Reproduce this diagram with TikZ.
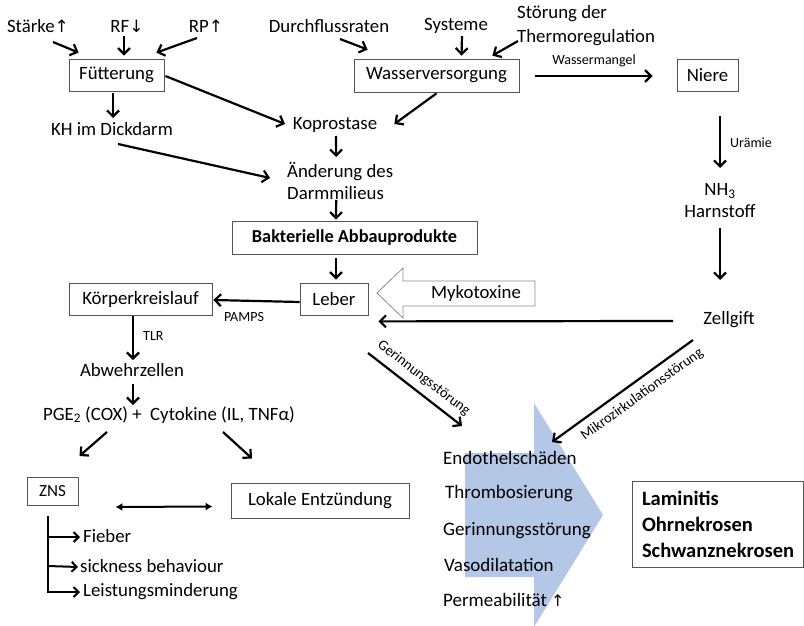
\documentclass[tikz,border=0pt]{standalone}
\usepackage{fontspec}
\setmainfont{Carlito}
\newfontfamily\symfont{DejaVu Sans}
\usetikzlibrary{arrows.meta}
\definecolor{chev}{HTML}{B4C7E7}
\definecolor{boxline}{HTML}{555555}
\begin{document}
\begin{tikzpicture}[x=1pt,y=-1pt,
  txt/.style={font=\fontsize{18.8}{22}\selectfont, inner sep=0pt, align=center},
  rtxt/.style={font=\fontsize{19}{22}\selectfont, inner sep=0pt, anchor=west},
  box/.style={txt, draw=boxline, line width=0.8pt, minimum height=32pt},
  lab/.style={font=\fontsize{14}{16}\selectfont, inner sep=0pt},
  slab/.style={font=\fontsize{14.5}{16}\selectfont, inner sep=0pt},
  arr/.style={line width=2.2pt, -{Straight Barb[length=6pt,width=12pt]}},
  tarr/.style={line width=2pt, -{Straight Barb[length=5pt,width=10pt]}},
  darr/.style={line width=2pt, {Latex[length=7pt,width=8pt]}-{Latex[length=7pt,width=8pt]}},
]
\useasboundingbox (0,0) rectangle (804,626);
\fill[white] (0,0) rectangle (804,626);

% blue chevron
\fill[chev] (465,453) -- (534,453) -- (534,403) -- (603,515) -- (534,627) -- (534,577) -- (465,577) -- cycle;

% Mykotoxine hollow arrow
\draw[draw=black!45, fill=white, line width=0.8pt] (377,293) -- (403,268) -- (403,281) -- (535,281) -- (535,306) -- (403,306) -- (403,318) -- cycle;
\node[txt] (myko) at (476,293) {Mykotoxine};

% top row
\node[txt] (staerke) at (38,26) {Stärke{\symfont\fontsize{17}{20}\selectfont ↑}};
\node[txt] (rf) at (127,26) {RF{\symfont\fontsize{17}{20}\selectfont ↓}};
\node[txt] (rp) at (206,26) {RP{\symfont\fontsize{17}{20}\selectfont ↑}};
\node[txt] (durch) at (329,26) {Durchflussraten};
\node[txt] (syst) at (456,26) {Systeme};
\node[txt, align=left, anchor=west, font=\fontsize{18.8}{24}\selectfont] (thermo) at (517,26) {Störung der\\Thermoregulation};

% boxes
\node[box, minimum width=95pt] (fut) at (116.5,75) {Fütterung};
\node[box, minimum width=165pt, minimum height=33pt] (wass) at (436.5,75.5) {Wasserversorgung};
\node[box, minimum width=61pt] (niere) at (707.5,75) {Niere};
\node[box, minimum width=245pt, minimum height=33pt, font=\fontsize{18.3}{22}\selectfont\bfseries] (bakt) at (354.5,237.5) {Bakterielle Abbauprodukte};
\node[box, minimum width=68pt] (leber) at (334,299) {Leber};
\node[box, minimum width=143pt] (koerp) at (140.5,299) {Körperkreislauf};
\node[box, minimum width=51pt, minimum height=28pt, font=\fontsize{17}{20}\selectfont] (zns) at (52.5,491) {ZNS};
\node[box, minimum width=178pt, minimum height=35pt] (lokal) at (320,500.5) {Lokale Entzündung};
\node[draw=boxline, line width=0.8pt, minimum width=171pt, minimum height=86pt, text width=151pt, inner xsep=10pt, inner ysep=0pt, align=left, font=\fontsize{20.5}{26}\selectfont\bfseries] (lam) at (717.5,524) {Laminitis\\Ohrnekrosen\\Schwanznekrosen};

% text nodes
\node[txt] (kh) at (112,129) {KH im Dickdarm};
\node[txt] (kopro) at (335,125) {Koprostase};
\node[txt, align=left, anchor=west] (aend) at (287,181) {Änderung des\\Darmmilieus};
\node[txt] (harn) at (720,201) {NH\textsubscript{3}\\Harnstoff};
\node[txt] (zell) at (729,320) {Zellgift};
\node[txt] (abwehr) at (132,370) {Abwehrzellen};
\node[txt] (pge) at (169,415) {PGE\textsubscript{2} (COX) +\ \ Cytokine (IL, TNFα)};
\node[txt, anchor=west] (fieber) at (83,536) {Fieber};
\node[txt, anchor=west] (sick) at (80,566) {sickness behaviour};
\node[txt, anchor=west] (leist) at (83,592) {Leistungsminderung};

\node[rtxt] (endo) at (443,458) {Endothelschäden};
\node[rtxt] (thromb) at (445,494) {Thrombosierung};
\node[rtxt] (gerinn) at (443,531) {Gerinnungsstörung};
\node[rtxt] (vaso) at (444,565) {Vasodilatation};
\node[rtxt] (perm) at (443,600) {Permeabilität {\symfont\fontsize{16}{20}\selectfont ↑}};

% arrows top-left
\draw[arr] ([shift={(15,16)}]staerke.center) -- ([shift={(10,-6)}]fut.north west);
\draw[arr] ([shift={(-3,10)}]rf.center) -- ([shift={(7.5,-3)}]fut.north);
\draw[arr] ([shift={(-9,12)}]rp.center) -- ([shift={(-8,-6)}]fut.north east);
\draw[arr] ([shift={(-3.5,2)}]fut.south) -- ([shift={(1,-11)}]kh.center);
\draw[arr] ([shift={(1,1)}]fut.east) -- ([shift={(-50,-1)}]kopro.center);
\draw[arr] ([shift={(6,15)}]kh.center) -- ([shift={(-17,-3)}]aend.west);

% arrows top-middle
\draw[arr] ([shift={(11,13)}]durch.center) -- ([shift={(14,-9)}]wass.north west);
\draw[arr] ([shift={(6,10)}]syst.center) -- ([shift={(25,-3)}]wass.north);
\draw[arr] ([shift={(1,15)}]thermo.west) -- ([shift={(-27,-3)}]wass.north east);
\draw[arr] ([shift={(0,1)}]wass.south) -- ([shift={(17,-1)}]kopro.east);
\draw[arr] ([shift={(1,11)}]kopro.center) -- ([shift={(-4,-24)}]aend.center);
\draw[arr] ([shift={(-4,19)}]aend.center) -- ([shift={(-18.5,-1)}]bakt.north);
\draw[arr] ([shift={(-18.5,4)}]bakt.south) -- ([shift={(2,-3)}]leber.north);

% right column
\draw[arr] ([shift={(16,0.5)}]wass.east) -- node[lab, above=8pt] (wm) {Wassermangel} ([shift={(-24,1)}]niere.west);
\draw[arr] ([shift={(12.5,25)}]niere.south) -- ([shift={(0,-33)}]harn.center);
\node[lab, anchor=west] (uraemie) at (730,143) {Urämie};
\draw[arr] ([shift={(0,27)}]harn.center) -- ([shift={(-9,-40)}]zell.center);
\draw[arr] ([shift={(-56,1)}]zell.center) -- ([shift={(10,6)}]leber.south east);

% left middle
\draw[arr] ([shift={(0,3)}]leber.west) -- ([shift={(1,1)}]koerp.east);
\node[lab] (pamps) at (244,317) {PAMPS};
\draw[arr] ([shift={(-7.5,1)}]koerp.south) -- ([shift={(1,-10)}]abwehr.center);
\node[lab, anchor=west] (tlr) at (143,336) {TLR};
\draw[arr] ([shift={(1,14)}]abwehr.center) -- ([shift={(-36,-10)}]pge.center);
\draw[arr] ([shift={(-62,17)}]pge.center) -- ([shift={(27,-35)}]zns.center);
\draw[arr] ([shift={(54,17)}]pge.center) -- ([shift={(-68,-42)}]lokal.center);
\draw[darr] ([shift={(37,16)}]zns.east) -- ([shift={(-18,6)}]lokal.west);

% ZNS tree
\coordinate (tt) at (48,516);
\coordinate (tb) at (48,592);
\draw[line width=2pt] (tt) -- (tb);
\draw[tarr] (48,537) -- ([shift={(-3,1)}]fieber.west);
\draw[tarr] (48,566) -- ([shift={(-2,1)}]sick.west);
\draw[tarr] ([shift={(-1,0)}]tb) -- ([shift={(-3,0)}]leist.west);

% diagonal arrows
\coordinate (gs) at (368,353);
\coordinate (ms) at (693,340);
\draw[arr] (gs) -- node[slab, sloped, above=7pt] (glab) {Gerinnungsstörung} ([shift={(19,-32)}]endo.west);
\draw[arr] (ms) -- node[slab, sloped, below=7pt, pos=0.42] (mlab) {Mikrozirkulationsstörung} ([shift={(109,-16)}]endo.west);
\end{tikzpicture}
\end{document}
